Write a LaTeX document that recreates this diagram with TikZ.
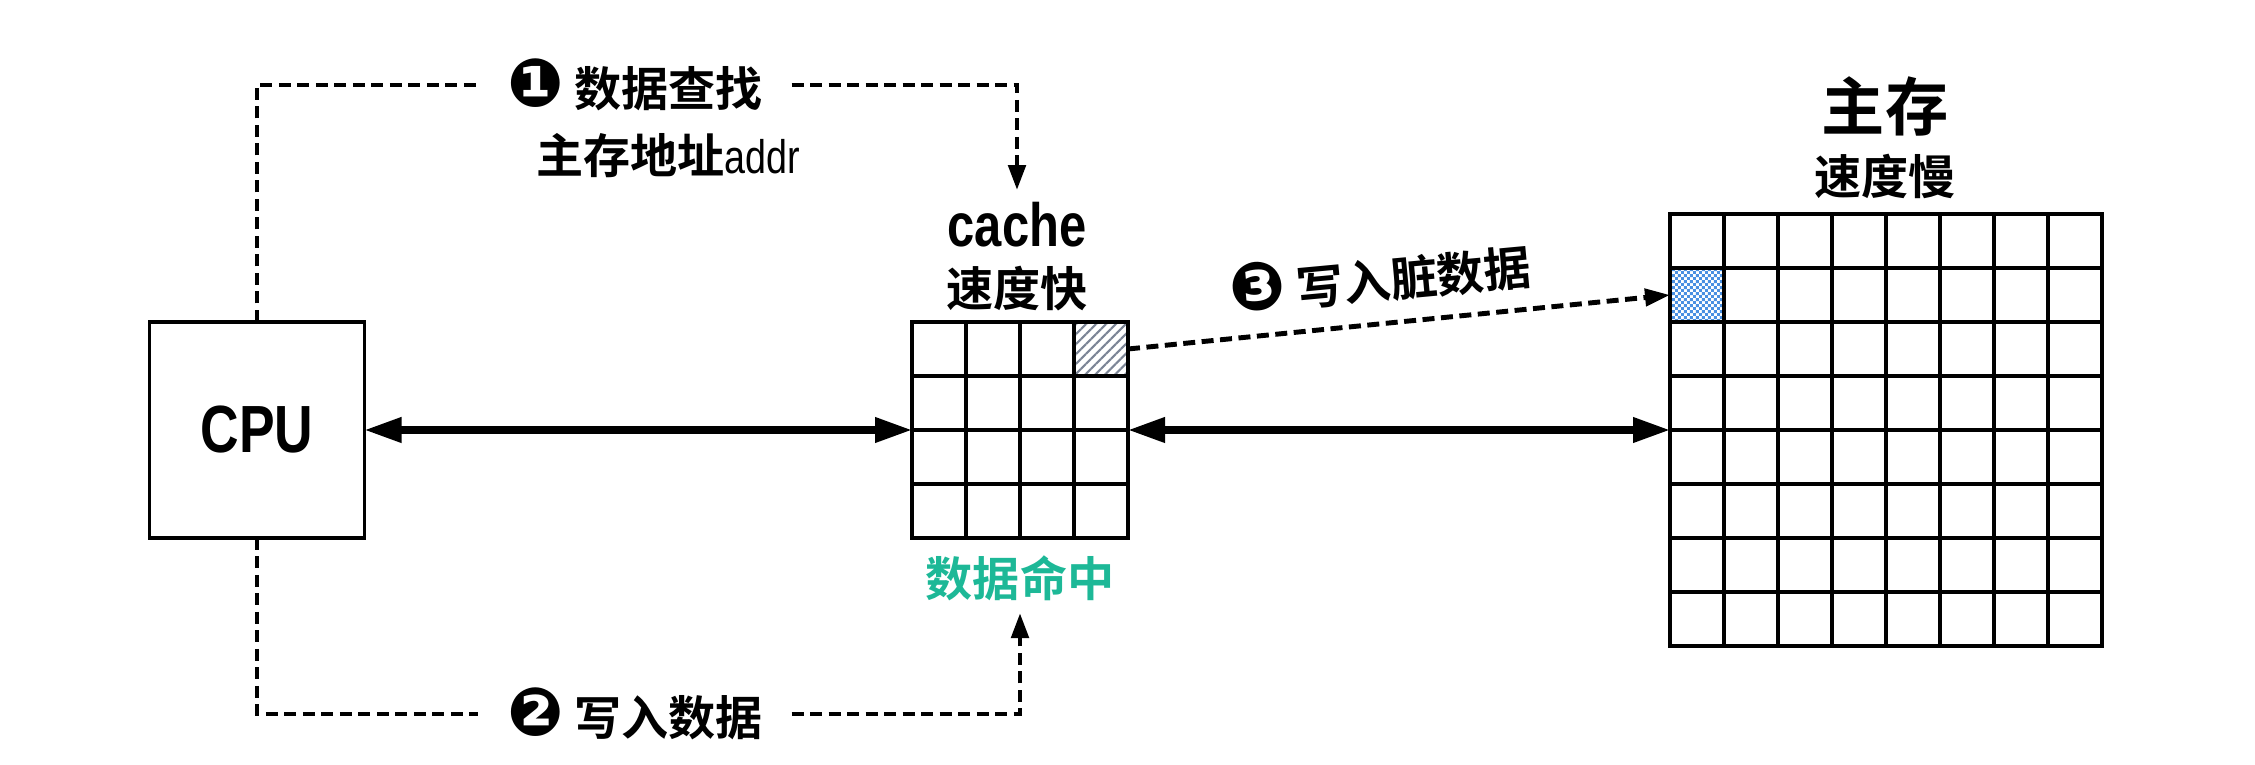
\documentclass[tikz,border=0pt]{standalone}
\usepackage{fontspec}
\setmainfont{Noto Sans CJK SC}[BoldFont={* Bold}]
\newfontfamily\narrowfont{Liberation Sans}[FakeStretch=0.8]
\newfontfamily\dingfont{DejaVu Sans}
\usetikzlibrary{arrows.meta, patterns, patterns.meta}

\definecolor{hitgreen}{HTML}{1DB897}
\definecolor{hatchgray}{HTML}{7C8596}
\definecolor{dirtyblue}{HTML}{4A90E2}

\pgfdeclarepatternformonly{finecheck}{\pgfqpoint{0pt}{0pt}}{\pgfqpoint{1.8pt}{1.8pt}}{\pgfqpoint{1.8pt}{1.8pt}}{
	\pgfpathrectangle{\pgfqpoint{0pt}{0pt}}{\pgfqpoint{0.9pt}{0.9pt}}
	\pgfpathrectangle{\pgfqpoint{0.9pt}{0.9pt}}{\pgfqpoint{0.9pt}{0.9pt}}
	\pgfusepath{fill}
}

\tikzset{
	unitbox/.style={draw, line width=1pt, outer sep=0pt},
	cell/.style={draw, line width=1pt, minimum size=5.4mm, inner sep=0pt, outer sep=0pt},
	lbl/.style={font=\bfseries\fontsize{13.4pt}{16pt}\selectfont},
	num/.style={font=\dingfont\fontsize{19pt}{19pt}\selectfont},
	dashline/.style={line width=1.4pt, dash pattern=on 1.2mm off 0.65mm},
	dashtip/.style={-{Triangle[length=2.5mm,width=1.7mm]}},
	bus/.style={line width=2pt, {Triangle[length=3.7mm,width=2.4mm]}-{Triangle[length=3.7mm,width=2.4mm]}},
}

\begin{document}
\begin{tikzpicture}[x=0.1mm, y=0.1mm]
	\useasboundingbox (0,0) rectangle (2255,764);

	\node[unitbox, minimum width=21.5mm, minimum height=21.6mm,
		font=\narrowfont\bfseries\fontsize{19pt}{19pt}\selectfont] (cpu) at (257,334) {CPU};
	\node[unitbox, minimum size=21.6mm] (cache) at (1020,334) {};
	\node[unitbox, minimum size=43.2mm] (mem) at (1886,334) {};

	\begin{scope}[shift={(cache.south west)}]
		\draw[line width=1pt] (0,0) grid[step=54] (216,216);
	\end{scope}
	\begin{scope}[shift={(mem.south west)}]
		\draw[line width=1pt] (0,0) grid[step=54] (432,432);
	\end{scope}

	\node[cell, pattern={Lines[angle=45,distance=2pt,line width=0.6pt]}, pattern color=hatchgray] (dirty) at (1101,415) {};
	\node[cell, pattern=finecheck, pattern color=dirtyblue] (slot) at (1697,469) {};

	\node[lbl, font=\narrowfont\bfseries\fontsize{17.4pt}{17.4pt}\selectfont] (cachename) at (1017,539) {cache};
	\node[lbl] (cachespeed) at (1017,475) {速度快};
	\node[lbl, font=\bfseries\fontsize{18pt}{18pt}\selectfont] (memname) at (1885,658) {主存};
	\node[lbl] (memspeed) at (1885,588) {速度慢};
	\node[lbl, text=hitgreen] (hit) at (1020,186) {数据命中};

	\node[lbl, inner xsep=2.8mm] (find) at (635,679) {{\dingfont\fontsize{19pt}{16pt}\selectfont ❶} 数据查找};
	\node[lbl] (addr) at (668,608) {主存地址{\narrowfont\mdseries addr}};
	\node[lbl, inner xsep=2.8mm] (write) at (635,50) {{\dingfont\fontsize{19pt}{16pt}\selectfont ❷} 写入数据};
	\node[lbl, rotate=5.3] (dirtylbl) at (1380,487) {{\dingfont\fontsize{19pt}{16pt}\selectfont ❸} 写入脏数据};

	\draw[dashline] (cpu.north) |- (find.west);
	\draw[dashline, dashtip] (find.east) -| (cachename.north);
	\draw[dashline] (cpu.south) |- (write.west);
	\draw[dashline, dashtip] (write.east) -| (hit.south);

	\draw[bus] (cpu.east) -- (cache.west);
	\draw[bus] (cache.east) -- (mem.west);
	\draw[dashline, dashtip] (dirty.east) -- (slot.west);
\end{tikzpicture}
\end{document}
